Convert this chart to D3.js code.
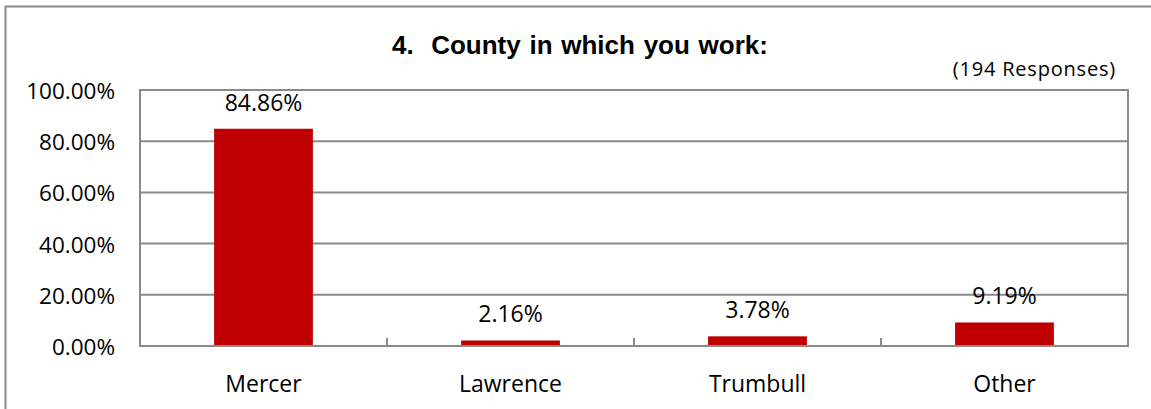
<!DOCTYPE html>
<html>
<head>
<meta charset="utf-8">
<script src="https://cdn.jsdelivr.net/npm/d3@7"></script>
<style>
  html, body { margin: 0; padding: 0; background: #ffffff; }
  svg { display: block; }
</style>
</head>
<body>
<svg id="chart" width="1151" height="409"></svg>
<script>
// Survey question 4: share of respondents by county of work
const categories = ["Mercer", "Lawrence", "Trumbull", "Other"];
const shares = [84.86, 2.16, 3.78, 9.19];
const tickValues = [0, 20, 40, 60, 80, 100];
const titleText = "4.  County in which you work:";
const responsesText = "(194 Responses)";

const W = 1151, H = 409;
const plot = { left: 140, top: 90, right: 1128, bottom: 346 };
const gray = "#8a8a8a";
const barRed = "#c00000";
const labelFont = "'Open Sans', 'Noto Sans', sans-serif";

const svg = d3.select("#chart");

// outer chart frame (extends past the right and bottom edges)
svg.append("rect")
  .attr("x", 5.5).attr("y", 6.5)
  .attr("width", W + 20).attr("height", H + 20)
  .attr("fill", "#ffffff")
  .attr("stroke", gray).attr("stroke-width", 2);

const x = d3.scaleBand()
  .domain(categories)
  .range([plot.left, plot.right])
  .paddingInner(0.6).paddingOuter(0.3);

const xOuter = d3.scaleBand()
  .domain(categories)
  .range([plot.left, plot.right]);

const y = d3.scaleLinear()
  .domain([0, 100])
  .range([plot.bottom, plot.top]);

// horizontal gridlines
svg.append("g")
  .selectAll("line")
  .data(tickValues)
  .join("line")
  .attr("x1", plot.left).attr("x2", plot.right)
  .attr("y1", d => y(d)).attr("y2", d => y(d))
  .attr("stroke", gray).attr("stroke-width", 2);

// plot area border
svg.append("rect")
  .attr("x", plot.left).attr("y", plot.top)
  .attr("width", plot.right - plot.left)
  .attr("height", plot.bottom - plot.top)
  .attr("fill", "none")
  .attr("stroke", gray).attr("stroke-width", 2);

// y axis labels
const yAxis = d3.axisLeft(y)
  .tickValues(tickValues)
  .tickSize(0)
  .tickPadding(25)
  .tickFormat(d => d3.format(".2f")(d) + "%");

svg.append("g")
  .attr("transform", `translate(${plot.left},0)`)
  .call(yAxis)
  .call(g => g.select(".domain").remove())
  .call(g => g.selectAll("text")
    .attr("font-family", labelFont)
    .attr("font-size", 22.5)
    .attr("fill", "#000")
    .attr("dy", "0.38em"));

// category boundary ticks on the x axis (pointing into the plot)
const boundaries = categories.slice(1).map(c => xOuter(c));
svg.append("g")
  .selectAll("line")
  .data(boundaries)
  .join("line")
  .attr("x1", d => d).attr("x2", d => d)
  .attr("y1", plot.bottom).attr("y2", plot.bottom - 8)
  .attr("stroke", gray).attr("stroke-width", 2);

// x axis labels
const xAxis = d3.axisBottom(xOuter).tickSize(0).tickPadding(30);
svg.append("g")
  .attr("transform", `translate(0,${plot.bottom})`)
  .call(xAxis)
  .call(g => g.select(".domain").remove())
  .call(g => g.selectAll("text")
    .attr("font-family", labelFont)
    .attr("font-size", 23)
    .attr("fill", "#000"));

// bars
svg.append("g")
  .selectAll("rect")
  .data(categories.map((c, i) => ({ c, v: shares[i] })))
  .join("rect")
  .attr("x", d => x(d.c))
  .attr("width", x.bandwidth())
  .attr("y", d => y(d.v))
  .attr("height", d => y(0) - y(d.v))
  .attr("fill", barRed);

// redraw the baseline over the bars
svg.append("line")
  .attr("x1", plot.left).attr("x2", plot.right)
  .attr("y1", plot.bottom).attr("y2", plot.bottom)
  .attr("stroke", gray).attr("stroke-width", 2);

// value labels
svg.append("g")
  .selectAll("text")
  .data(categories.map((c, i) => ({ c, v: shares[i] })))
  .join("text")
  .attr("x", d => x(d.c) + x.bandwidth() / 2)
  .attr("y", d => y(d.v) - 18)
  .attr("text-anchor", "middle")
  .attr("font-family", labelFont)
  .attr("font-size", 23)
  .attr("fill", "#000")
  .text(d => d3.format(".2f")(d.v) + "%");

// title (keeps the double space after the question number)
svg.append("text")
  .attr("x", 580)
  .attr("y", 54)
  .attr("text-anchor", "middle")
  .attr("font-family", "'Liberation Sans', Arial, sans-serif")
  .attr("font-weight", "bold")
  .attr("font-size", 26)
  .attr("word-spacing", 1.5)
  .style("white-space", "pre")
  .attr("fill", "#000")
  .text(titleText);

// response count
svg.append("text")
  .attr("x", 1116)
  .attr("y", 76)
  .attr("text-anchor", "end")
  .attr("font-family", labelFont)
  .attr("font-size", 20)
  .attr("letter-spacing", 0.8)
  .attr("fill", "#000")
  .text(responsesText);
</script>
</body>
</html>
